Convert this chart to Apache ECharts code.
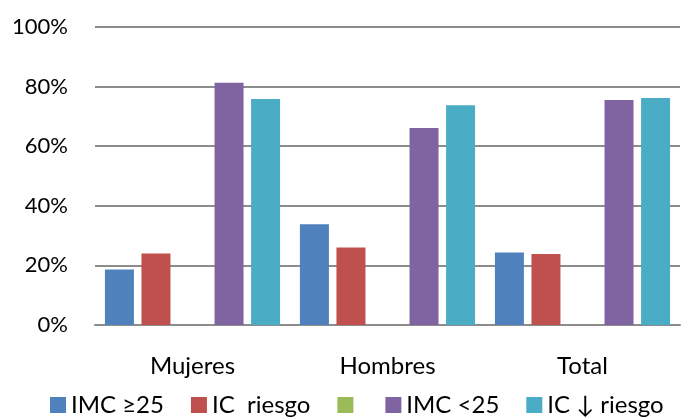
<!DOCTYPE html>
<html>
<head>
<meta charset="utf-8">
<script src="https://cdn.jsdelivr.net/npm/echarts@6/dist/echarts.min.js"></script>
<style>
  html, body { margin: 0; padding: 0; background: #fff; }
  #chart { width: 682px; height: 417px; }
</style>
</head>
<body>
<div id="chart"></div>
<script>
// Groups along the x axis
const categories = ['Mujeres', 'Hombres', 'Total'];

// Shares per group (%)
const imcAlto = [18.6, 33.8, 24.3];      // IMC ≥25
const icRiesgo = [24.0, 26.0, 23.8];     // IC riesgo
const vacio = [null, null, null];        // unnamed series, no values
const imcBajo = [81.3, 66.1, 75.5];      // IMC <25
const icBajoRiesgo = [75.8, 73.7, 76.2]; // IC ↓ riesgo

const seriesNames = ['IMC \u226525', 'IC  riesgo', '\u200B', 'IMC <25', 'IC \u2193 riesgo'];
const seriesColors = ['#4F81BD', '#C0504D', '#9BBB59', '#8064A2', '#4BACC6'];
const seriesData = [imcAlto, icRiesgo, vacio, imcBajo, icBajoRiesgo];

const yTicks = [0, 20, 40, 60, 80, 100];

const font = 'Lato, "Open Sans", sans-serif';

const chart = echarts.init(document.getElementById('chart'), null, { renderer: 'canvas' });

chart.setOption({
  animation: false,
  backgroundColor: '#ffffff',
  grid: { left: 95, right: 2, top: 27, bottom: 92 },
  legend: {
    left: 50,
    top: 393,
    padding: 0,
    itemWidth: 16,
    itemHeight: 16,
    itemGap: 27,
    icon: 'rect',
    data: seriesNames,
    textStyle: { fontFamily: font, fontSize: 24, color: '#000' }
  },
  xAxis: {
    type: 'category',
    data: categories,
    axisLine: { lineStyle: { color: '#8c8c8c', width: 2 } },
    axisTick: { show: false },
    axisLabel: { fontFamily: font, fontSize: 24, color: '#000', margin: 29 }
  },
  yAxis: {
    type: 'value',
    min: yTicks[0],
    max: yTicks[yTicks.length - 1],
    interval: 20,
    axisLine: { show: false },
    axisTick: { show: false },
    splitLine: { lineStyle: { color: '#8c8c8c', width: 2 } },
    axisLabel: {
      fontFamily: font, fontSize: 22, color: '#000', margin: 27,
      formatter: v => v + '%'
    }
  },
  series: seriesNames.map((name, i) => ({
    name: name,
    type: 'bar',
    data: seriesData[i],
    barWidth: 29,
    barGap: '26%',
    itemStyle: { color: seriesColors[i] }
  }))
});
</script>
</body>
</html>
